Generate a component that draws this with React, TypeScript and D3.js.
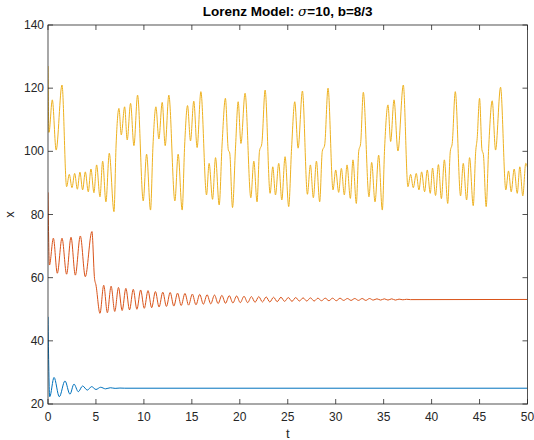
import React from 'react';
import * as d3 from 'd3';

// [t, x] extrema
const blueSeries: [number, number][] = [
  [0, 47.6], [0.18, 22.3], [0.63, 28.4], [1.18, 22.3], [1.77, 27.3], [2.29, 23.1],
  [2.71, 26.3], [3.16, 23.9], [3.61, 25.7], [4.1, 24.4], [4.55, 25.5], [5.0, 24.6],
  [5.49, 25.3], [6.0, 24.8], [6.5, 25.15], [7.0, 24.95], [7.5, 25.05], [8.0, 25.0], [50, 25.0],
];

const redSeries: [number, number][] = [
  [0, 87], [0.15, 64.0], [0.56, 72.5], [0.97, 61.4], [1.46, 72.5], [1.94, 61.1],
  [2.4, 72.8], [2.85, 60.8], [3.37, 73.2], [3.89, 60.3], [4.58, 74.6], [4.85, 59.8],
  [5.0, 57.7], [5.42, 48.7], [5.81, 57.6], [6.19, 48.9], [6.58, 57.3], [6.96, 49.3],
  [7.35, 56.9], [7.73, 49.6], [8.12, 56.6], [8.5, 49.8], [8.89, 56.3], [9.27, 50.0],
  [9.66, 56.1], [10.04, 50.3], [10.43, 55.9], [10.81, 50.5], [11.2, 55.6], [11.58, 50.7],
  [11.97, 55.4], [12.35, 50.9], [12.74, 55.3], [13.12, 51.0], [13.51, 55.1], [13.89, 51.2],
  [14.28, 55.0], [14.66, 51.3], [15.05, 54.8], [15.43, 51.4], [15.82, 54.7], [16.2, 51.6],
  [16.59, 54.6], [16.97, 51.7], [17.36, 54.5], [17.74, 51.8], [18.13, 54.4], [18.51, 51.9],
  [18.9, 54.3], [19.28, 52.0], [19.67, 54.2], [20.05, 52.1], [20.44, 54.1], [20.82, 52.1],
  [21.21, 54.0], [21.59, 52.2], [21.98, 54.0], [22.36, 52.3], [22.75, 53.9], [23.13, 52.3],
  [23.52, 53.8], [23.9, 52.4], [24.29, 53.8], [24.67, 52.5], [25.06, 53.7], [25.44, 52.5],
  [25.83, 53.7], [26.21, 52.6], [26.6, 53.6], [26.98, 52.6], [27.37, 53.6], [27.75, 52.6],
  [28.14, 53.5], [28.52, 52.7], [28.91, 53.5], [29.29, 52.7], [29.68, 53.5], [30.06, 52.7],
  [30.45, 53.5], [30.83, 52.8], [31.22, 53.4], [31.6, 52.8], [31.99, 53.4], [32.37, 52.8],
  [32.76, 53.4], [33.14, 52.8], [33.53, 53.4], [33.91, 52.9], [34.3, 53.3], [34.68, 52.9],
  [35.07, 53.3], [35.45, 52.9], [35.84, 53.3], [36.22, 52.9], [36.61, 53.2], [37.0, 53.0],
  [37.4, 53.15], [37.8, 53.05], [50, 53.1],
];

const yellowSeries: [number, number][] = [
  [0, 127], [0.1, 106], [0.45, 116.3], [0.85, 100.4], [1.46, 121], [1.94, 88.8],
  [2.22, 92.7], [2.5, 88.5], [2.78, 93.0], [3.06, 88.0], [3.33, 93.4], [3.61, 87.8],
  [3.89, 93.5], [4.2, 87.2], [4.48, 94.4], [4.79, 86.9], [5.07, 95.7], [5.42, 85.6],
  [5.7, 96.9], [6.04, 84.0], [6.39, 99.4], [6.88, 80.9], [7.1, 102], [7.4, 113.6],
  [7.64, 105.2], [7.99, 114.1], [8.26, 103.6], [8.61, 115.2], [8.96, 101.8], [9.34, 117.8],
  [9.93, 84.3], [10.28, 99.1], [10.69, 81.4], [10.95, 102], [11.25, 114.1], [11.56, 103.9],
  [11.91, 115.5], [12.22, 101.8], [12.6, 117.8], [13.23, 84.3], [13.57, 99.1], [13.99, 81.4],
  [14.25, 102], [14.55, 114.5], [14.86, 103.3], [15.2, 115.9], [15.55, 101.2], [15.94, 118.9],
  [16.53, 86.2], [16.8, 96.2], [17.16, 84.8], [17.47, 98.0], [17.85, 83.0], [18.15, 102],
  [18.5, 116.8], [18.8, 100.5], [18.95, 99.5], [19.24, 82.2], [19.55, 101], [19.83, 115.7],
  [20.12, 102.5], [20.55, 118.4], [21.15, 85.3], [21.46, 96.9], [21.8, 84.0], [22.05, 100],
  [22.3, 102.5], [22.64, 119.4], [23.16, 86.7], [23.44, 95.1], [23.72, 86.2], [24.06, 96.2],
  [24.38, 84.6], [24.72, 98.3], [25.1, 82.5], [25.4, 101], [25.73, 115.7], [26.08, 101.0],
  [26.53, 119.1], [27.05, 86.4], [27.36, 95.7], [27.67, 85.3], [27.99, 96.9], [28.33, 84.0],
  [28.6, 100], [28.85, 102], [29.2, 120.0], [29.72, 87.8], [30.0, 94.1], [30.31, 87.0],
  [30.59, 94.6], [30.9, 86.2], [31.18, 95.7], [31.53, 85.1], [31.8, 97.3], [32.15, 83.5],
  [32.4, 100], [32.6, 102.5], [32.88, 118.7], [33.47, 85.6], [33.75, 96.5], [34.1, 84.0],
  [34.48, 98.8], [34.86, 81.4], [35.1, 101], [35.45, 114.7], [35.73, 103.1], [36.08, 116.3],
  [36.49, 100.1], [37.05, 121.0], [37.53, 88.8], [37.81, 92.7], [38.09, 88.5], [38.4, 93.0],
  [38.68, 87.8], [38.96, 93.5], [39.27, 87.2], [39.55, 94.1], [39.86, 86.7], [40.1, 94.7],
  [40.41, 86.0], [40.71, 95.8], [41.02, 85.0], [41.33, 97.3], [41.68, 83.5], [41.95, 100],
  [42.15, 102.5], [42.47, 118.9], [43.02, 85.9], [43.3, 96.2], [43.65, 84.6], [43.96, 98.0],
  [44.34, 82.8], [44.6, 100], [44.75, 104], [45.0, 116.8], [45.25, 100.5], [45.4, 99],
  [45.69, 82.5], [45.95, 101], [46.32, 116.0], [46.67, 100.4], [47.19, 120.3], [47.74, 87.8],
  [48.02, 93.8], [48.3, 87.2], [48.61, 94.4], [48.93, 86.7], [49.2, 95.1], [49.51, 85.9],
  [49.82, 96.2], [50, 95.0],
];

const seriesColors = ['#0072BD', '#D95319', '#EDB120'];
const xTicks = [0, 5, 10, 15, 20, 25, 30, 35, 40, 45, 50];
const yTicks = [20, 40, 60, 80, 100, 120, 140];

const W = 534, H = 440;
const M = { left: 48, right: 6.5, top: 25, bottom: 36 };

export default function App() {
  const x = d3.scaleLinear().domain([0, 50]).range([M.left, W - M.right]);
  const y = d3.scaleLinear().domain([20, 140]).range([H - M.bottom, M.top]);
  const line = d3.line<[number, number]>()
    .x(d => x(d[0]))
    .y(d => y(d[1]))
    .curve(d3.curveMonotoneX);
  const all = [blueSeries, redSeries, yellowSeries];
  const axisColor = '#262626';
  const font = 'Liberation Sans, Arial, Helvetica, sans-serif';
  const x0 = M.left, x1 = W - M.right, y0 = M.top, y1 = H - M.bottom;
  const tl = 5;
  return (
    <svg width={W} height={H} style={{ position: 'absolute', left: 0, top: 0, background: '#fff' }} fontFamily={font}>
      <rect x={0} y={0} width={W} height={H} fill="#fff" />
      <defs>
        <clipPath id="plotclip">
          <rect x={x0} y={y0} width={x1 - x0} height={y1 - y0} />
        </clipPath>
      </defs>
      <g clipPath="url(#plotclip)">
        {all.map((s, i) => (
          <path key={i} d={line(s) || ''} fill="none" stroke={seriesColors[i]} strokeWidth={1} strokeLinejoin="round" />
        ))}
      </g>
      <rect x={x0} y={y0} width={x1 - x0} height={y1 - y0} fill="none" stroke={axisColor} strokeWidth={0.8} />
      {xTicks.map(t => (
        <g key={'xt' + t}>
          <line x1={x(t)} x2={x(t)} y1={y1} y2={y1 - tl} stroke={axisColor} strokeWidth={0.8} />
          <line x1={x(t)} x2={x(t)} y1={y0} y2={y0 + tl} stroke={axisColor} strokeWidth={0.8} />
          <text x={x(t)} y={y1 + 17} textAnchor="middle" fontSize={12} fill={axisColor}>{t}</text>
        </g>
      ))}
      {yTicks.map(v => (
        <g key={'yt' + v}>
          <line x1={x0} x2={x0 + tl} y1={y(v)} y2={y(v)} stroke={axisColor} strokeWidth={0.8} />
          <line x1={x1} x2={x1 - tl} y1={y(v)} y2={y(v)} stroke={axisColor} strokeWidth={0.8} />
          <text x={x0 - 4} y={y(v) + 4} textAnchor="end" fontSize={12} fill={axisColor}>{v}</text>
        </g>
      ))}
      <text x={(x0 + x1) / 2} y={y1 + 34} textAnchor="middle" fontSize={13} fill={axisColor}>t</text>
      <text transform={`translate(14,${(y0 + y1) / 2}) rotate(-90)`} textAnchor="middle" fontSize={13} fill={axisColor}>x</text>
      <text x={(x0 + x1) / 2} y={16} textAnchor="middle" fontSize={13.5} fill="#000">
        <tspan fontWeight="bold">Lorenz Model: </tspan>
        <tspan fontStyle="italic" fontFamily="DejaVu Serif, Liberation Serif, serif">σ</tspan>
        <tspan fontWeight="bold">=10, b=8/3</tspan>
      </text>
    </svg>
  );
}
